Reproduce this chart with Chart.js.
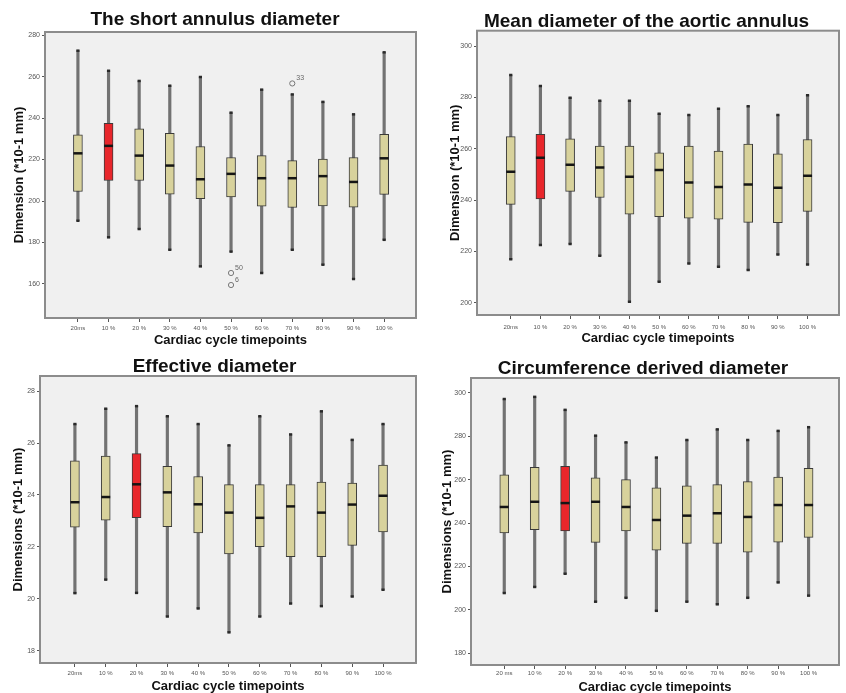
<!DOCTYPE html>
<html>
<head>
<meta charset="utf-8">
<script src="https://cdn.jsdelivr.net/npm/chart.js@4/dist/chart.umd.min.js"></script>
<style>
  body { margin: 0; background: #fff; }
  .panel { position: absolute; }
</style>
</head>
<body>
<canvas id="c1" class="panel" width="423" height="350" style="left:0;top:0"></canvas>
<canvas id="c2" class="panel" width="423" height="350" style="left:423px;top:0"></canvas>
<canvas id="c3" class="panel" width="423" height="343" style="left:0;top:350px"></canvas>
<canvas id="c4" class="panel" width="423" height="343" style="left:423px;top:350px"></canvas>
<script>
// timepoints along the x axis
const timepoints = ["20ms", "10 %", "20 %", "30 %", "40 %", "50 %", "60 %", "70 %", "80 %", "90 %", "100 %"];
const timepointsAlt = ["20 ms", "10 %", "20 %", "30 %", "40 %", "50 %", "60 %", "70 %", "80 %", "90 %", "100 %"];

// short annulus diameter
const shortHigh = [272.5, 262.8, 257.9, 255.6, 259.8, 242.6, 253.7, 251.4, 247.8, 241.8, 271.7];
const shortQ3 = [231.9, 237.5, 234.8, 232.7, 226.3, 221.0, 221.9, 219.5, 220.2, 221.0, 232.2];
const shortMed = [223.0, 226.6, 221.9, 217.1, 210.5, 213.1, 211.0, 211.0, 212.0, 209.2, 220.6];
const shortQ1 = [204.6, 209.9, 209.9, 203.3, 201.1, 202.0, 197.5, 196.9, 197.7, 197.0, 203.2];
const shortLow = [190.5, 182.5, 186.5, 176.5, 168.5, 175.6, 165.3, 176.5, 169.3, 162.4, 181.3];
const shortOutliers = [{ x: 5, y: 165.3, id: "50" }, { x: 5, y: 159.5, id: "6" }, { x: 7, y: 256.7, id: "33" }];
const shortTicks = [160, 180, 200, 220, 240, 260, 280];

// mean diameter of the aortic annulus
const meanHigh = [288.7, 284.4, 279.9, 278.7, 278.7, 273.6, 273.1, 275.6, 276.6, 273.1, 280.8];
const meanQ3 = [264.7, 265.6, 263.9, 261.0, 261.0, 258.4, 261.0, 259.1, 261.8, 258.0, 263.6];
const meanMed = [251.0, 256.5, 253.8, 252.7, 249.1, 251.7, 246.8, 245.1, 246.1, 244.8, 249.5];
const meanQ1 = [238.3, 240.4, 243.4, 241.0, 234.5, 233.5, 232.9, 232.5, 231.3, 231.2, 235.6];
const meanLow = [216.9, 222.5, 222.9, 218.3, 200.4, 208.2, 215.3, 214.0, 212.7, 218.8, 214.9];
const meanTicks = [200, 220, 240, 260, 280, 300];

// effective diameter
const effHigh = [26.73, 27.32, 27.42, 27.03, 26.73, 25.91, 27.03, 26.33, 27.22, 26.12, 26.73];
const effQ3 = [25.31, 25.50, 25.59, 25.10, 24.71, 24.40, 24.40, 24.40, 24.50, 24.46, 25.15];
const effMed = [23.72, 23.92, 24.41, 24.10, 23.64, 23.32, 23.12, 23.56, 23.32, 23.63, 23.97];
const effQ1 = [22.76, 23.03, 23.13, 22.78, 22.54, 21.73, 22.01, 21.62, 21.62, 22.06, 22.58];
const effLow = [20.22, 20.74, 20.23, 19.32, 19.63, 18.71, 19.32, 19.82, 19.72, 20.09, 20.35];
const effTicks = [18, 20, 22, 24, 26, 28];

// circumference derived diameter
const circHigh = [297.2, 298.2, 292.2, 280.3, 277.2, 270.2, 278.3, 283.2, 278.3, 282.5, 284.2];
const circQ3 = [262.2, 265.7, 266.2, 260.8, 260.0, 256.2, 257.1, 257.7, 259.1, 261.2, 265.2];
const circMed = [247.4, 249.8, 249.2, 249.8, 247.4, 241.4, 243.4, 244.5, 242.8, 248.3, 248.3];
const circQ1 = [235.4, 236.9, 236.3, 231.1, 236.3, 227.5, 230.6, 230.6, 226.6, 231.2, 233.4];
const circLow = [207.7, 210.5, 216.6, 203.7, 205.5, 199.5, 203.7, 202.5, 205.5, 212.6, 206.5];
const circTicks = [180, 200, 220, 240, 260, 280, 300];

const TAN = "#d8d29c";
const RED = "#e8262b";
const FONT = "'Liberation Sans', Arial, sans-serif";

// plot background + frame
const framePlugin = {
  id: "frame",
  beforeDatasetsDraw(chart) {
    const a = chart.chartArea, ctx = chart.ctx;
    ctx.save();
    ctx.fillStyle = "#f0f0f0";
    ctx.fillRect(a.left, a.top, a.right - a.left, a.bottom - a.top);
    ctx.restore();
  },
  afterDatasetsDraw(chart, args, opts) {
    const a = chart.chartArea, ctx = chart.ctx;
    ctx.save();
    // outlier case numbers
    const sx = chart.scales.x, sy = chart.scales.y;
    ctx.fillStyle = "#666";
    ctx.font = "7px " + FONT;
    ctx.textBaseline = "middle";
    (opts.outliers || []).forEach(o => {
      ctx.fillText(o.id, sx.getPixelForValue(o.x) + 4, sy.getPixelForValue(o.y) - 5);
    });
    ctx.strokeStyle = "#8c8c8c";
    ctx.lineWidth = 2;
    ctx.strokeRect(a.left, a.top, a.right - a.left, a.bottom - a.top);
    ctx.restore();
  }
};

function panel(id, p) {
  const idx = p.low.map((_, i) => i);
  const L = p.box;
  const padL = 2 * L.titleX - L.r;
  new Chart(document.getElementById(id), {
    type: "bar",
    data: {
      datasets: [
        {
          data: idx.map(i => ({ x: i, y: [p.low[i], p.high[i]] })),
          backgroundColor: "#727272", borderWidth: 0,
          barThickness: 2.5, grouped: false, order: 3
        },
        {
          data: idx.map(i => ({ x: i, y: [p.q1[i], p.q3[i]] })),
          backgroundColor: idx.map(i => i === p.hl ? RED : TAN),
          borderColor: "#3a3a3a", borderWidth: 1, borderSkipped: false,
          barThickness: 9, grouped: false, order: 2
        },
        {
          type: "scatter",
          data: idx.flatMap(i => [{ x: i, y: p.low[i] }, { x: i, y: p.high[i] }]),
          pointStyle: "line", radius: 1.6, borderWidth: 2.5, borderColor: "#2a2a2a", order: 1
        },
        {
          type: "scatter",
          data: idx.map(i => ({ x: i, y: p.med[i] })),
          pointStyle: "line", radius: 4.5, borderWidth: 2.5, borderColor: "#151515", order: 0
        },
        {
          type: "scatter",
          data: (p.outliers || []).map(o => ({ x: o.x, y: o.y })),
          pointStyle: "circle", radius: 2.6, borderWidth: 1, borderColor: "#777",
          backgroundColor: "rgba(0,0,0,0)", order: 0
        }
      ]
    },
    options: {
      responsive: false,
      animation: false,
      events: [],
      layout: { padding: { left: padL, right: L.w - L.r, top: 0, bottom: 0 } },
      plugins: {
        legend: { display: false },
        tooltip: { enabled: false },
        title: {
          display: true,
          text: p.title,
          color: "#111",
          font: { family: FONT, size: 19, weight: "bold", lineHeight: 1 },
          padding: { top: L.titleY - 9.5, bottom: L.t - L.titleY - 9.5 }
        },
        frame: { outliers: p.outliers }
      },
      scales: {
        x: {
          type: "linear",
          min: p.xMin, max: p.xMax,
          offset: false,
          afterBuildTicks: s => { s.ticks = idx.map(v => ({ value: v })); },
          afterFit: s => { s.height = L.h - L.b; s.paddingLeft = 0; s.paddingRight = 0; },
          ticks: {
            autoSkip: false, maxRotation: 0, color: "#555", padding: L.xPad,
            font: { family: FONT, size: 6 },
            callback: v => p.labels[v]
          },
          grid: { drawOnChartArea: false, offset: false, tickLength: 4, color: "#555" },
          border: { display: false },
          title: {
            display: true, text: "Cardiac cycle timepoints", color: "#111",
            font: { family: FONT, size: 13, weight: "bold" },
            padding: { top: 0, bottom: L.h - 7.8 - L.xTitleY }
          }
        },
        y: {
          min: p.yMin, max: p.yMax,
          afterBuildTicks: s => { s.ticks = p.ticks.map(v => ({ value: v })); },
          afterFit: s => { s.width = L.l - padL; s.paddingTop = 0; s.paddingBottom = 0; },
          ticks: { color: "#555", padding: 2, font: { family: FONT, size: 7 } },
          grid: { drawOnChartArea: false, tickLength: 3, color: "#555" },
          border: { display: false },
          title: {
            display: true, text: p.yTitle, color: "#111",
            font: { family: FONT, size: 13, weight: "bold" },
            padding: { top: L.yTitleX - padL - 7.8, bottom: 0 }
          }
        }
      }
    },
    plugins: [framePlugin]
  });
}

panel("c1", {
  title: "The short annulus diameter", yTitle: "Dimension (*10-1 mm)", labels: timepoints,
  high: shortHigh, q3: shortQ3, med: shortMed, q1: shortQ1, low: shortLow,
  outliers: shortOutliers, ticks: shortTicks, hl: 1,
  yMin: 143.6, yMax: 281.5, xMin: -1.075, xMax: 11.04,
  box: { w: 423, h: 350, l: 45, r: 417, t: 32, b: 318, titleX: 215, titleY: 20, yTitleX: 19, xTitleY: 340, xPad: 2.4 }
});
panel("c2", {
  title: "Mean diameter of the aortic annulus", yTitle: "Dimension (*10-1 mm)", labels: timepoints,
  high: meanHigh, q3: meanQ3, med: meanMed, q1: meanQ1, low: meanLow,
  ticks: meanTicks, hl: 1,
  yMin: 195.2, yMax: 306, xMin: -1.137, xMax: 11.06,
  box: { w: 423, h: 350, l: 54, r: 422, t: 30.7, b: 315, titleX: 223.5, titleY: 21.7, yTitleX: 32, xTitleY: 338, xPad: 4.4 }
});
panel("c3", {
  title: "Effective diameter", yTitle: "Dimensions (*10-1 mm)", labels: timepoints,
  high: effHigh, q3: effQ3, med: effMed, q1: effQ1, low: effLow,
  ticks: effTicks, hl: 2,
  yMin: 17.53, yMax: 28.58, xMin: -1.133, xMax: 11.07,
  box: { w: 423, h: 343, l: 40, r: 417, t: 26, b: 313, titleX: 214.5, titleY: 16.5, yTitleX: 18, xTitleY: 336, xPad: 2.4 }
});
panel("c4", {
  title: "Circumference derived diameter", yTitle: "Dimensions (*10-1 mm)", labels: timepointsAlt,
  high: circHigh, q3: circQ3, med: circMed, q1: circQ1, low: circLow,
  ticks: circTicks, hl: 2,
  yMin: 174.5, yMax: 306.9, xMin: -1.093, xMax: 11.0,
  box: { w: 423, h: 343, l: 48, r: 421, t: 28, b: 315, titleX: 220, titleY: 18.5, yTitleX: 24, xTitleY: 337, xPad: 0.4 }
});
</script>
</body>
</html>
